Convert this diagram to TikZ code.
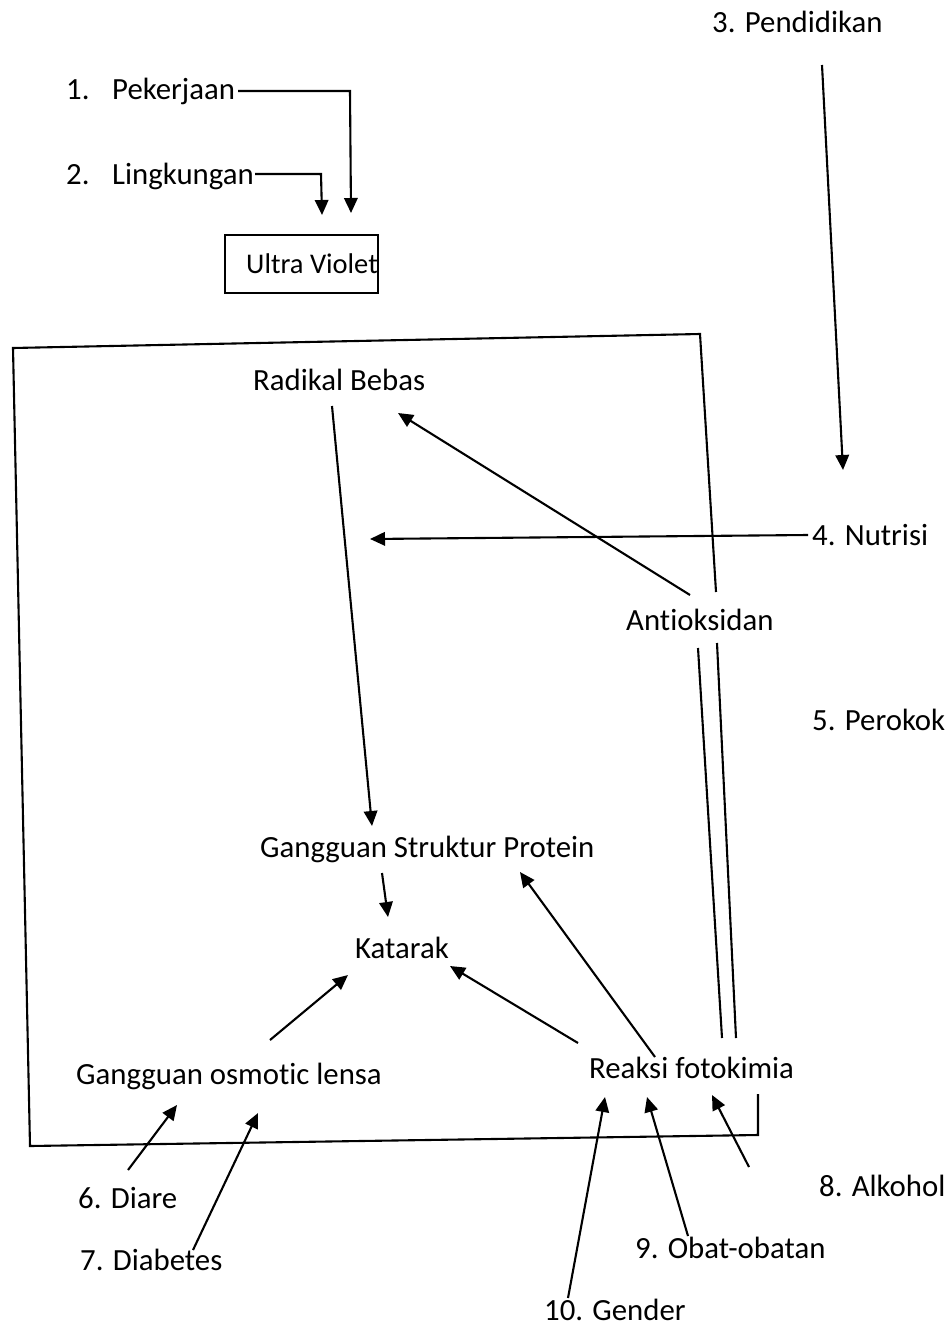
\documentclass[tikz,border=0pt]{standalone}
\usepackage{fontspec}
\setmainfont{Carlito}[Ligatures=NoCommon]
\usetikzlibrary{arrows.meta}
\begin{document}
\begin{tikzpicture}[x=1pt,y=-1pt,
  lbl/.style={inner sep=0pt, anchor=base west, font=\fontsize{30.8}{36}\selectfont},
  ln/.style={line width=2.1pt, line join=miter},
  arr/.style={line width=2.1pt, -{Triangle[length=15pt,width=13.5pt]}},
  boxst/.style={draw, line width=2.1pt, minimum width=153pt, minimum height=58pt, inner sep=0pt}]
\useasboundingbox (0,0) rectangle (948,1327);

% text nodes
\node[lbl] (n1) at (66,100) {1.};
\node[lbl] (pek) at (112,100) {Pekerjaan};
\node[lbl] (n2) at (66,184) {2.};
\node[lbl] (lin) at (112,184) {Lingkungan};
\node[boxst] (uv) at (301.5,264) {};
\node[lbl, font=\fontsize{28.5}{34}\selectfont] (uvt) at (246,273) {Ultra Violet};
\node[lbl] (pend) at (712,33) {3. Pendidikan};
\node[lbl] (nut) at (812,545) {4. Nutrisi};
\node[lbl] (rb) at (253,390) {Radikal Bebas};
\node[lbl] (anti) at (626,630) {Antioksidan};
\node[lbl] (rok) at (812,730) {5. Perokok};
\node[lbl] (gsp) at (260,857) {Gangguan Struktur Protein};
\node[lbl] (kat) at (355,958) {Katarak};
\node[lbl] (gol) at (76,1084) {Gangguan osmotic lensa};
\node[lbl] (rf) at (589,1078) {Reaksi fotokimia};
\node[lbl] (dia) at (78,1208) {6. Diare};
\node[lbl] (dib) at (80,1270) {7. Diabetes};
\node[lbl] (alk) at (819,1196) {8. Alkohol};
\node[lbl] (obat) at (635,1258) {9. Obat-obatan};
\node[lbl] (gen) at (544,1320) {10. Gender};

% connector end points
\coordinate (pekE) at (238,91);
\coordinate (linE) at (255,174);
\coordinate (uvA) at (351,213);
\coordinate (uvB) at (322,215);
\coordinate (pendS) at (822,65);
\coordinate (pendT) at (843,470);
\coordinate (nutW) at (808,535);
\coordinate (nutT) at (370,539);
\coordinate (antiN) at (690,595);
\coordinate (rbSE) at (398,413);
\coordinate (rbS) at (332,406);
\coordinate (gspN) at (372,826);
\coordinate (gspS) at (382,873);
\coordinate (katN) at (388,917);
\coordinate (golN) at (270,1040);
\coordinate (katSW) at (348,975);
\coordinate (rfNW) at (578,1043);
\coordinate (katSE) at (450,966);
\coordinate (rfN) at (655,1057);
\coordinate (gspSE) at (520,872);
\coordinate (diaN) at (128,1170);
\coordinate (golS1) at (177,1105);
\coordinate (dibN) at (193,1250);
\coordinate (golS2) at (258,1113);
\coordinate (alkN) at (749,1167);
\coordinate (rfS3) at (712,1095);
\coordinate (obatN) at (688,1236);
\coordinate (rfS2) at (647,1097);
\coordinate (genN) at (568,1298);
\coordinate (rfS1) at (605,1097);

% frame
\draw[ln] (716,592) -- (700,334) -- (13,348) -- (30,1146) -- (758,1135) -- (758,1094);
% double lines Antioksidan - Reaksi fotokimia
\draw[ln] (698,648) -- (722,1038);
\draw[ln] (717,643) -- (736,1038);

% arrows
\draw[arr] (pekE) -- (350,91) -- (uvA);
\draw[arr] (linE) -- (321,174) -- (uvB);
\draw[arr] (pendS) -- (pendT);
\draw[arr] (nutW) -- (nutT);
\draw[arr] (antiN) -- (rbSE);
\draw[arr] (rbS) -- (gspN);
\draw[arr] (gspS) -- (katN);
\draw[arr] (golN) -- (katSW);
\draw[arr] (rfNW) -- (katSE);
\draw[arr] (rfN) -- (gspSE);
\draw[arr] (diaN) -- (golS1);
\draw[arr] (dibN) -- (golS2);
\draw[arr] (alkN) -- (rfS3);
\draw[arr] (obatN) -- (rfS2);
\draw[arr] (genN) -- (rfS1);
\end{tikzpicture}
\end{document}
